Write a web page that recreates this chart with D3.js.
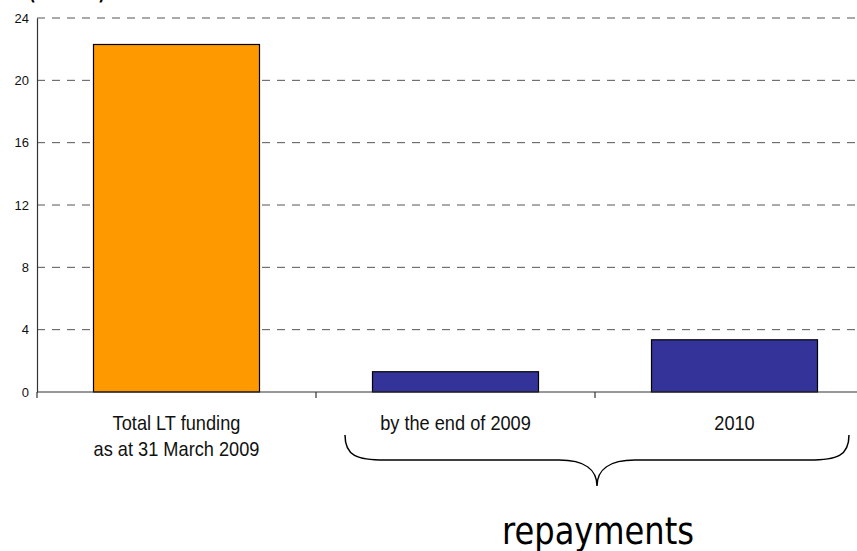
<!DOCTYPE html>
<html>
<head>
<meta charset="utf-8">
<script src="https://cdn.jsdelivr.net/npm/d3@7"></script>
<style>
  html, body { margin: 0; padding: 0; background: #fff; }
  svg { display: block; }
</style>
</head>
<body>
<svg id="chart" width="857" height="551"></svg>
<script>
const categories = ["Total LT funding|as at 31 March 2009", "by the end of 2009", "2010"];
const values = [22.3, 1.3, 3.35];
const barColors = ["#FF9900", "#333399", "#333399"];
const yTicks = [0, 4, 8, 12, 16, 20, 24];
const unitLabel = "(€ bn)";
const braceLabel = "repayments";

(function () {
const svg = d3.select("#chart");
const W = 857;
const plotLeft = 37, plotBottom = 392, plotTop = 18, bandStep = 279;

const x = d3.scaleBand()
  .domain(categories)
  .range([plotLeft, plotLeft + bandStep * categories.length])
  .paddingInner(0.405)
  .paddingOuter(0.2025);

const y = d3.scaleLinear().domain([0, 24]).range([plotBottom, plotTop]);

// gridlines
svg.append("g").selectAll("line")
  .data(yTicks.filter(d => d > 0))
  .join("line")
  .attr("x1", plotLeft).attr("x2", W)
  .attr("y1", d => y(d)).attr("y2", d => y(d))
  .attr("stroke", "#555")
  .attr("stroke-width", 1)
  .attr("stroke-dasharray", "8,7");

// y axis
const yAxis = svg.append("g")
  .attr("transform", `translate(${plotLeft},0)`)
  .call(d3.axisLeft(y).tickValues(yTicks).tickSize(0).tickPadding(8));
yAxis.select(".domain").attr("stroke", "#333").attr("stroke-width", 1.2);
yAxis.selectAll("text")
  .attr("font-family", "Liberation Sans, Arial, sans-serif")
  .attr("font-size", 13)
  .attr("fill", "#111");

// bars
svg.append("g").selectAll("rect")
  .data(values)
  .join("rect")
  .attr("x", (d, i) => x(categories[i]))
  .attr("width", x.bandwidth())
  .attr("y", d => y(d))
  .attr("height", d => y(0) - y(d))
  .attr("fill", (d, i) => barColors[i])
  .attr("stroke", "#000")
  .attr("stroke-width", 1.2);

// x axis line
svg.append("line")
  .attr("x1", plotLeft).attr("x2", W)
  .attr("y1", plotBottom).attr("y2", plotBottom)
  .attr("stroke", "#333").attr("stroke-width", 1.2);

// x ticks at band boundaries
svg.append("g").selectAll("line")
  .data(categories.map((c, i) => i))
  .join("line")
  .attr("x1", i => x(categories[i]) - x.step() * x.paddingOuter())
  .attr("x2", i => x(categories[i]) - x.step() * x.paddingOuter())
  .attr("y1", plotBottom).attr("y2", plotBottom + 6)
  .attr("stroke", "#333").attr("stroke-width", 1.2);

// category labels
const lab = svg.append("g");
categories.forEach((c, i) => {
  const cx = x(c) + x.bandwidth() / 2;
  const lines = c.split("|");
  lines.forEach((t, j) => {
    lab.append("text")
      .attr("transform", `translate(${cx},${430 + j * 26}) scale(0.91,1)`)
      .attr("text-anchor", "middle")
      .attr("font-family", "Liberation Sans, Arial, sans-serif")
      .attr("font-size", 20)
      .attr("fill", "#111")
      .text(t);
  });
});

// brace under repayment categories
const bx1 = 345, bx2 = 849, bmid = 597, by0 = 435, by1 = 460, by2 = 486;
const brace = d3.path();
brace.moveTo(bx1, by0);
brace.bezierCurveTo(bx1, by1 - 4, bx1 + 12, by1, bx1 + 40, by1);
brace.lineTo(bmid - 38, by1);
brace.bezierCurveTo(bmid - 12, by1, bmid, by1 + 10, bmid, by2);
brace.bezierCurveTo(bmid, by1 + 10, bmid + 12, by1, bmid + 38, by1);
brace.lineTo(bx2 - 40, by1);
brace.bezierCurveTo(bx2 - 12, by1, bx2, by1 - 4, bx2, by0);
svg.append("path")
  .attr("d", brace.toString())
  .attr("fill", "none")
  .attr("stroke", "#000")
  .attr("stroke-width", 1.5);

// repayments label
svg.append("text")
  .attr("x", 502).attr("y", 544)
  .attr("font-family", "DejaVu Sans, Verdana, sans-serif")
  .attr("font-size", 37)
  .attr("textLength", 192)
  .attr("lengthAdjust", "spacingAndGlyphs")
  .attr("fill", "#000")
  .text(braceLabel);

// cut-off unit label at top
svg.append("text")
  .attr("x", 26).attr("y", -2)
  .attr("font-family", "DejaVu Sans, Verdana, sans-serif")
  .attr("font-size", 37)
  .attr("textLength", 82)
  .attr("lengthAdjust", "spacingAndGlyphs")
  .attr("fill", "#000")
  .text(unitLabel);
})();
</script>
</body>
</html>
